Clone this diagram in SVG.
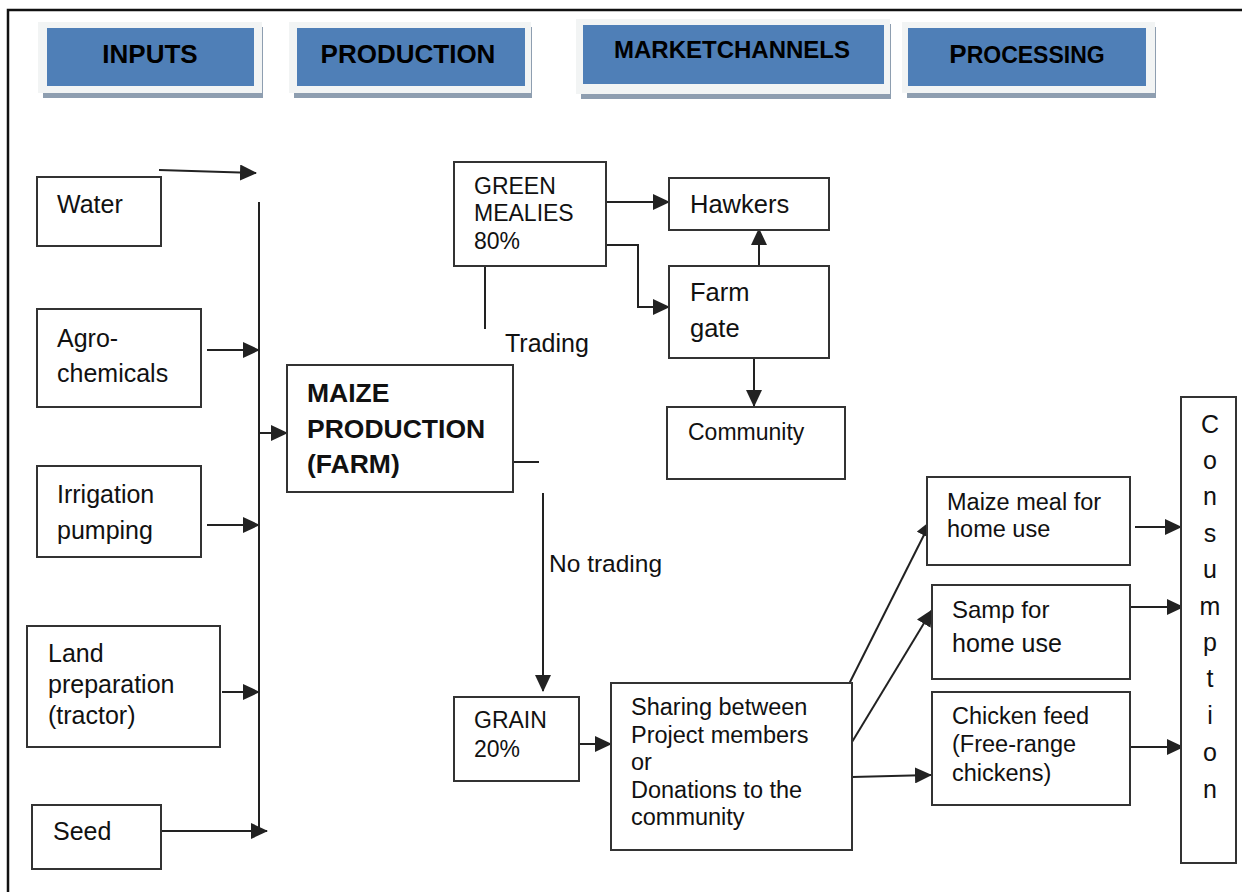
<svg xmlns="http://www.w3.org/2000/svg" width="1242" height="892" viewBox="0 0 1242 892">
  <style>
    .frame { fill: none; stroke: #111; stroke-width: 2.5; }
    .box { fill: #fff; stroke: #333; stroke-width: 2; }
    .hdr-mat { fill: #f2f4f4; }
    .hdr-shadow { fill: #8e9eb0; }
    .hdr-fill { fill: #4f7fb7; }
    .hdr-text { font-family: "Liberation Sans", Arial, sans-serif; font-weight: bold; fill: #000; text-anchor: middle; }
    .t { font-family: "Liberation Sans", Arial, sans-serif; fill: #111; }
    .b { font-weight: bold; }
    .edge { fill: none; stroke: #222; stroke-width: 2; }
    .arrow { marker-end: url(#head); }
  </style>
  <defs>
    <marker id="head" markerUnits="userSpaceOnUse" markerWidth="17" markerHeight="16" refX="16" refY="8" orient="auto">
      <path d="M0,0 L17,8 L0,16 z" fill="#222"/>
    </marker>
  </defs>

  <rect width="1242" height="892" fill="#fff"/>

  <!-- outer frame: runs off the right and bottom edges -->
  <path class="frame" d="M1242,10 L8,10 L8,892"/>

  <!-- column headers -->
  <g id="hdr-inputs">
    <rect class="hdr-shadow" x="43" y="27" width="220" height="71"/>
    <rect class="hdr-mat" x="38" y="22" width="224" height="71"/>
    <rect class="hdr-fill" x="47" y="28" width="207" height="58"/>
    <text class="hdr-text" x="150" y="63" font-size="26">INPUTS</text>
  </g>
  <g id="hdr-production">
    <rect class="hdr-shadow" x="294" y="27" width="238" height="71"/>
    <rect class="hdr-mat" x="289" y="22" width="242" height="71"/>
    <rect class="hdr-fill" x="297" y="28" width="228" height="58"/>
    <text class="hdr-text" x="408" y="63" font-size="26">PRODUCTION</text>
  </g>
  <g id="hdr-market">
    <rect class="hdr-shadow" x="581" y="24" width="310" height="75"/>
    <rect class="hdr-mat" x="576" y="19" width="314" height="75"/>
    <rect class="hdr-fill" x="583" y="25" width="301" height="59"/>
    <text class="hdr-text" x="732" y="58" font-size="24">MARKETCHANNELS</text>
  </g>
  <g id="hdr-processing">
    <rect class="hdr-shadow" x="907" y="27" width="249" height="71"/>
    <rect class="hdr-mat" x="902" y="22" width="253" height="71"/>
    <rect class="hdr-fill" x="908" y="28" width="238" height="58"/>
    <text class="hdr-text" x="1027" y="63" font-size="23"><tspan font-size="26">P</tspan>ROCESSING</text>
  </g>

  <!-- connectors -->
  <g id="connectors">
    <!-- input bus -->
    <line class="edge" x1="259" y1="202" x2="259" y2="831"/>
    <line class="edge arrow" x1="159" y1="170" x2="256" y2="173"/>
    <line class="edge arrow" x1="207" y1="350" x2="259" y2="350"/>
    <line class="edge arrow" x1="207" y1="525" x2="259" y2="525"/>
    <line class="edge arrow" x1="222" y1="692" x2="259" y2="692"/>
    <line class="edge arrow" x1="161" y1="831" x2="267" y2="831"/>
    <line class="edge arrow" x1="259" y1="433" x2="287" y2="433"/>

    <!-- farm outputs -->
    <line class="edge" x1="513" y1="462" x2="539" y2="462"/>
    <line class="edge arrow" x1="543" y1="493" x2="543" y2="691"/>
    <line class="edge" x1="485" y1="266" x2="485" y2="329"/>

    <!-- green mealies channels -->
    <line class="edge arrow" x1="606" y1="202" x2="669" y2="202"/>
    <path class="edge arrow" d="M606,245 L638,245 L638,307 L669,307"/>
    <line class="edge arrow" x1="759" y1="266" x2="759" y2="229"/>
    <line class="edge arrow" x1="754" y1="357" x2="754" y2="406"/>

    <!-- grain channels -->
    <line class="edge arrow" x1="580" y1="744" x2="611" y2="744"/>
    <line class="edge arrow" x1="847" y1="688" x2="931" y2="521"/>
    <line class="edge arrow" x1="852" y1="742" x2="932" y2="610"/>
    <line class="edge arrow" x1="852" y1="777" x2="931" y2="775"/>

    <!-- to consumption -->
    <line class="edge arrow" x1="1135" y1="527" x2="1181" y2="527"/>
    <line class="edge arrow" x1="1131" y1="607" x2="1183" y2="607"/>
    <line class="edge arrow" x1="1131" y1="747" x2="1183" y2="747"/>
  </g>

  <!-- inputs -->
  <g id="water">
    <rect class="box" x="37" y="177" width="124" height="69"/>
    <text class="t" x="57" y="213" font-size="25">Water</text>
  </g>
  <g id="agrochemicals">
    <rect class="box" x="37" y="309" width="164" height="98"/>
    <text class="t" x="57" y="347" font-size="25">Agro-</text>
    <text class="t" x="57" y="382" font-size="25">chemicals</text>
  </g>
  <g id="irrigation">
    <rect class="box" x="37" y="466" width="164" height="91"/>
    <text class="t" x="57" y="503" font-size="25">Irrigation</text>
    <text class="t" x="57" y="539" font-size="25">pumping</text>
  </g>
  <g id="land-prep">
    <rect class="box" x="27" y="626" width="193" height="121"/>
    <text class="t" x="48" y="662" font-size="25">Land</text>
    <text class="t" x="48" y="693" font-size="25">preparation</text>
    <text class="t" x="48" y="724" font-size="25">(tractor)</text>
  </g>
  <g id="seed">
    <rect class="box" x="32" y="805" width="129" height="64"/>
    <text class="t" x="53" y="840" font-size="25">Seed</text>
  </g>

  <!-- production -->
  <g id="maize-production">
    <rect class="box" x="287" y="365" width="226" height="127"/>
    <text class="t b" x="307" y="402" font-size="26.5">MAIZE</text>
    <text class="t b" x="307" y="438" font-size="26.5">PRODUCTION</text>
    <text class="t b" x="307" y="473" font-size="26.5">(FARM)</text>
  </g>

  <g id="label-trading">
    <text class="t" x="505" y="352" font-size="25">Trading</text>
  </g>
  <g id="label-no-trading">
    <text class="t" x="549" y="572" font-size="24.5">No trading</text>
  </g>

  <!-- market channels -->
  <g id="green-mealies">
    <rect class="box" x="454" y="162" width="152" height="104"/>
    <text class="t" x="474" y="194" font-size="23">GREEN</text>
    <text class="t" x="474" y="221" font-size="23">MEALIES</text>
    <text class="t" x="474" y="249" font-size="23">80%</text>
  </g>
  <g id="hawkers">
    <rect class="box" x="669" y="178" width="160" height="52"/>
    <text class="t" x="690" y="213" font-size="25.5">Hawkers</text>
  </g>
  <g id="farm-gate">
    <rect class="box" x="669" y="266" width="160" height="92"/>
    <text class="t" x="690" y="301" font-size="25.5">Farm</text>
    <text class="t" x="690" y="337" font-size="25.5">gate</text>
  </g>
  <g id="community">
    <rect class="box" x="667" y="407" width="178" height="72"/>
    <text class="t" x="688" y="440" font-size="23">Community</text>
  </g>
  <g id="grain">
    <rect class="box" x="454" y="697" width="125" height="84"/>
    <text class="t" x="474" y="728" font-size="23">GRAIN</text>
    <text class="t" x="474" y="757" font-size="23">20%</text>
  </g>
  <g id="sharing">
    <rect class="box" x="611" y="683" width="241" height="167"/>
    <text class="t" x="631" y="715" font-size="23.5">Sharing between</text>
    <text class="t" x="631" y="743" font-size="23.5">Project members</text>
    <text class="t" x="631" y="770" font-size="23.5">or</text>
    <text class="t" x="631" y="798" font-size="23.5">Donations to the</text>
    <text class="t" x="631" y="825" font-size="23.5">community</text>
  </g>

  <!-- processing -->
  <g id="maize-meal">
    <rect class="box" x="927" y="477" width="203" height="88"/>
    <text class="t" x="947" y="510" font-size="23.5">Maize meal for</text>
    <text class="t" x="947" y="537" font-size="23.5">home use</text>
  </g>
  <g id="samp">
    <rect class="box" x="932" y="585" width="198" height="94"/>
    <text class="t" x="952" y="618" font-size="24">Samp for</text>
    <text class="t" x="952" y="652" font-size="25">home use</text>
  </g>
  <g id="chicken-feed">
    <rect class="box" x="932" y="692" width="198" height="113"/>
    <text class="t" x="952" y="724" font-size="23.5">Chicken feed</text>
    <text class="t" x="952" y="752" font-size="23.5">(Free-range</text>
    <text class="t" x="952" y="781" font-size="23.5">chickens)</text>
  </g>

  <!-- consumption -->
  <g id="consumption">
    <rect class="box" x="1181" y="397" width="55" height="466"/>
    <g class="t" font-size="25" text-anchor="middle">
      <text x="1210" y="433">C</text>
      <text x="1210" y="469">o</text>
      <text x="1210" y="505">n</text>
      <text x="1210" y="542">s</text>
      <text x="1210" y="578">u</text>
      <text x="1210" y="615">m</text>
      <text x="1210" y="651">p</text>
      <text x="1210" y="687">t</text>
      <text x="1210" y="724">i</text>
      <text x="1210" y="761">o</text>
      <text x="1210" y="798">n</text>
    </g>
  </g>
</svg>
